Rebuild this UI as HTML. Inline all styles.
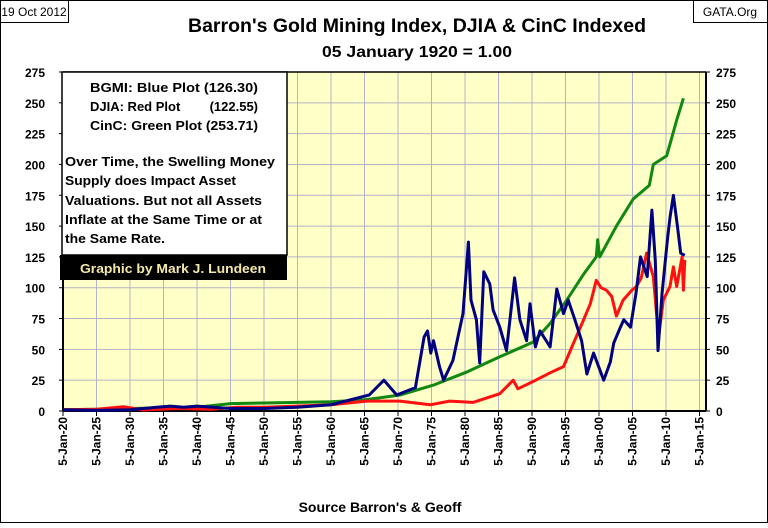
<!DOCTYPE html>
<html><head><meta charset="utf-8"><style>
body{margin:0;background:#fff}
svg text{font-family:"Liberation Sans",sans-serif}
</style></head><body>
<svg width="768" height="523" viewBox="0 0 768 523" xmlns="http://www.w3.org/2000/svg">
<rect x="0.5" y="0.5" width="767" height="522" fill="#fff" stroke="#000"/>
<rect x="0.5" y="0.5" width="68" height="22" fill="#fff" stroke="#000"/>
<text x="34" y="16" font-size="12" text-anchor="middle">19 Oct 2012</text>
<rect x="693.5" y="0.5" width="74" height="22" fill="#fff" stroke="#000"/>
<text x="730" y="16" font-size="12" text-anchor="middle">GATA.Org</text>
<text x="417" y="32" font-size="19" font-weight="bold" text-anchor="middle" textLength="458" lengthAdjust="spacingAndGlyphs">Barron's Gold Mining Index, DJIA &amp; CinC Indexed</text>
<text x="417" y="57" font-size="16" font-weight="bold" text-anchor="middle" textLength="190" lengthAdjust="spacingAndGlyphs">05 January 1920 = 1.00</text>
<rect x="63" y="72" width="643" height="339" fill="#ffffc8"/>
<g id="grid"></g>
<g id="axes"></g>
<g id="series"></g>
<rect x="62" y="72" width="225" height="183" fill="#fff" stroke="#000" stroke-width="1.5"/>
<g font-size="13" font-weight="bold">
<text x="90" y="92" textLength="168" lengthAdjust="spacingAndGlyphs">BGMI:  Blue Plot  (126.30)</text>
<text x="90" y="111">DJIA: Red Plot</text>
<text x="258" y="111" text-anchor="end">(122.55)</text>
<text x="90" y="130" textLength="168" lengthAdjust="spacingAndGlyphs">CinC: Green Plot  (253.71)</text>
<text x="65" y="166" textLength="210" lengthAdjust="spacingAndGlyphs">Over Time, the Swelling Money</text>
<text x="65" y="185" textLength="171" lengthAdjust="spacingAndGlyphs">Supply does Impact Asset</text>
<text x="65" y="205" textLength="197" lengthAdjust="spacingAndGlyphs">Valuations.  But not all Assets</text>
<text x="65" y="224" textLength="197" lengthAdjust="spacingAndGlyphs">Inflate at the Same Time or at</text>
<text x="65" y="243" textLength="100" lengthAdjust="spacingAndGlyphs">the Same Rate.</text>
</g>
<rect x="60" y="255" width="227" height="25" fill="#000"/>
<text x="173" y="273" font-size="13" font-weight="bold" fill="#f4e8a8" text-anchor="middle" textLength="186" lengthAdjust="spacingAndGlyphs">Graphic by Mark J. Lundeen</text>
<text x="380" y="512" font-size="14" font-weight="bold" text-anchor="middle">Source Barron's &amp; Geoff</text>
</svg>
<script>
const yTicks=[0,25,50,75,100,125,150,175,200,225,250,275];
const xTickYears=[1920,1925,1930,1935,1940,1945,1950,1955,1960,1965,1970,1975,1980,1985,1990,1995,2000,2005,2010,2015];
const greenYears=[1920,1925,1930,1935,1940,1945,1950,1955,1960,1965,1970.3,1975.3,1980.2,1985.2,1990.2,1992.7,1995.2,1997.7,1999.6,1999.8,2000.1,2002.6,2005.1,2007.5,2008.1,2010.1,2011.6,2012.6];
const greenVals=[1,1.5,2,2.5,3,6,6.5,7,7.5,9,13,21,31.5,44,56,71,90,111,125,139,125,150,172,183,200,207,236,253.7];
const redYears=[1920,1925,1929,1932,1937,1942,1946,1950,1955,1960,1965.3,1970.3,1974.8,1977.7,1981.2,1985.2,1987.2,1987.9,1990.2,1992.7,1994.7,1996.2,1997.7,1998.7,1999.6,2000.3,2001.1,2001.9,2002.6,2003.6,2004.9,2005.6,2006.3,2007.1,2008.1,2008.9,2009.6,2010.6,2011.1,2011.6,2012.4,2012.6,2012.8];
const redVals=[1,1.5,3.5,0.8,2,1.5,3,3,4,5,8,8,5,8,7,14,25,18,24,31,36,55,74,87,106,100,98,93,77,90,98,101,108,128,109,60,90,101,117,101,125,98,122.5];
const blueYears=[1920,1925,1930,1934,1936,1938,1940,1945,1950,1955,1960,1965.7,1967.9,1969.8,1972.6,1973.9,1974.4,1974.9,1975.3,1976.2,1976.8,1978.2,1979.7,1980.5,1980.9,1981.7,1982.2,1982.8,1983.7,1984.2,1985.2,1986.2,1987.4,1988.2,1989.2,1989.7,1990.5,1991.2,1992.0,1992.7,1993.7,1994.7,1995.4,1996.4,1997.4,1998.2,1999.2,2000.7,2001.7,2002.2,2003.2,2003.7,2004.7,2005.5,2006.2,2007.2,2007.9,2008.4,2008.8,2009.4,2010.2,2010.6,2011.1,2011.7,2012.2,2012.8];
const blueVals=[1,0.5,1,3,4,3,4,2,2,3,5,13,25,13,19,60,65,47,57,36,25,41,79,137,90,74,39,113,103,82,68,49,108,74,57,87,52,65,58,52,99,79,90,74,57,30,47,25,40,55,68,74,68,95,125,109,163,122,49,95,138,157,175,150,128,126.3];

const NS='http://www.w3.org/2000/svg';
const X0=63,X1=706,Y0=411,Y1=72;
const xs=yr=>X0+(yr-1920)*6.7;
const ys=v=>Y0-(v/275)*(Y0-Y1);
function mk(tag,attrs,parent){const e=document.createElementNS(NS,tag);for(const k in attrs)e.setAttribute(k,attrs[k]);parent.appendChild(e);return e;}
const grid=document.getElementById('grid'),axes=document.getElementById('axes'),series=document.getElementById('series');
yTicks.forEach(t=>{
  if(t>0){const l=mk('line',{x1:X0,x2:X1,y1:ys(t),y2:ys(t),stroke:'#b4b4c8','stroke-width':1},grid);
  
  }
  const a=mk('text',{x:45,y:ys(t)+5,'font-size':12,'font-weight':'bold','text-anchor':'end'},axes);a.textContent=t;
  
  
  const b=mk('text',{x:716,y:ys(t)+5,'font-size':12,'font-weight':'bold'},axes);b.textContent=t;
  
  
  mk('line',{x1:X0-4,x2:X0,y1:ys(t),y2:ys(t),stroke:'#000'},axes);
  mk('line',{x1:X1,x2:X1+4,y1:ys(t),y2:ys(t),stroke:'#000'},axes);
});
xTickYears.forEach(yr=>{
  const x=xs(yr);
  if(yr>1920){const l=mk('line',{x1:x,x2:x,y1:Y1,y2:Y0,stroke:'#b4b4c8','stroke-width':1},grid);
  
  }
  mk('line',{x1:x,x2:x,y1:Y0,y2:Y0+5,stroke:'#000'},axes);
  const t=mk('text',{x:0,y:0,'font-size':12,'font-weight':'bold','text-anchor':'end',transform:`translate(${x+4},${Y0+6}) rotate(-90)`},axes);
  t.textContent='5-Jan-'+String(yr).slice(2);
  
  
});
mk('line',{x1:X0,x2:X0,y1:Y1,y2:Y0,stroke:'#000','stroke-width':2},axes);
mk('line',{x1:X1,x2:X1,y1:Y1,y2:Y0,stroke:'#000','stroke-width':2},axes);
mk('line',{x1:X0,x2:X1,y1:Y0,y2:Y0,stroke:'#000','stroke-width':2},axes);
mk('line',{x1:X0,x2:X1,y1:Y1,y2:Y1,stroke:'#000','stroke-width':1.5},axes);
function line(yrs,vals,color,name){
  const d=yrs.map((y,i)=>(i?'L':'M')+xs(y).toFixed(1)+','+ys(vals[i]).toFixed(1)).join('');
  const p=mk('path',{d:d,fill:'none',stroke:color,'stroke-width':3,'stroke-linejoin':'round'},series);
  
  
}
line(greenYears,greenVals,'#118811','cinc-line');
line(redYears,redVals,'#ff1010','djia-line');
line(blueYears,blueVals,'#000080','bgmi-line');
</script>
</body></html>
